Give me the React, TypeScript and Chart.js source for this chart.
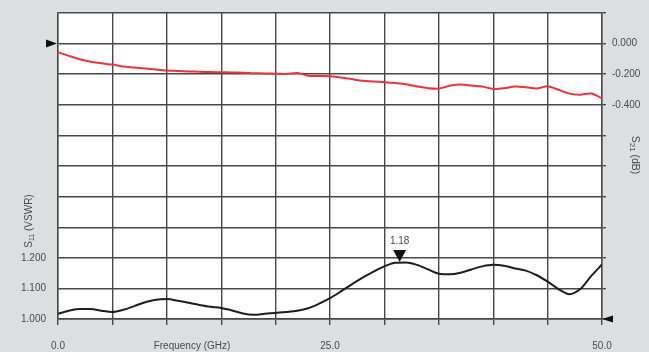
import React, { useEffect, useRef } from "react";
import { Chart, registerables } from "chart.js";

Chart.register(...registerables);

// Frequency (GHz) for S11 samples
const s11Freq = [0,1,2,3,4,5,6,7,8,9,10,11,12,13,14,15,16,17,18,19,20,21,22,23,24,25,26,27,28,29,30,31,32,33,34,35,36,37,38,39,40,41,42,43,44,45,46,47,48,49,50];
const s11Vswr = [1.017,1.027,1.033,1.033,1.027,1.023,1.030,1.042,1.055,1.063,1.065,1.060,1.053,1.046,1.040,1.036,1.028,1.018,1.014,1.017,1.020,1.023,1.027,1.035,1.050,1.068,1.090,1.113,1.135,1.155,1.172,1.184,1.185,1.177,1.162,1.148,1.146,1.151,1.162,1.172,1.177,1.174,1.165,1.158,1.143,1.122,1.098,1.081,1.098,1.140,1.178];

// Frequency (GHz) for S21 samples
const s21Freq = [0,1,2,3,4,5,6,7,8,9,10,11,12,13,14,15,16,17,18,19,20,21,22,23,24,25,26,27,28,29,30,31,32,33,34,35,36,37,38,39,40,41,42,43,44,45,46,47,48,49,50];
const s21Db = [-0.056,-0.080,-0.102,-0.118,-0.129,-0.137,-0.150,-0.156,-0.163,-0.170,-0.176,-0.179,-0.182,-0.184,-0.186,-0.187,-0.189,-0.190,-0.193,-0.195,-0.197,-0.198,-0.192,-0.210,-0.212,-0.214,-0.221,-0.232,-0.243,-0.247,-0.252,-0.258,-0.266,-0.280,-0.291,-0.294,-0.276,-0.268,-0.274,-0.281,-0.296,-0.292,-0.280,-0.285,-0.294,-0.278,-0.302,-0.327,-0.334,-0.326,-0.358];

const xLabelValues = [0, 25, 50];
const leftLabelValues = [1.0, 1.1, 1.2];
const rightLabelValues = [0, -0.2, -0.4];

const peakFreq = 31.4;
const peakValue = 1.18;
const peakLabel = "1.18";

const xTitle = "Frequency (GHz)";
const leftTitle = ["S", "11", " (VSWR)"];
const rightTitle = ["S", "21", " (dB)"];

const FONT = "'Liberation Sans', Arial, sans-serif";
const TEXT = "#4a4a4a";
const GRID = "#484848";
const BG = "#dcdfe0";

function inList(v: number, list: number[]) {
  return list.some((a) => Math.abs(a - v) < 1e-6);
}

function drawSubText(ctx: CanvasRenderingContext2D, x: number, y: number, rot: number, parts: string[], size: number) {
  ctx.save();
  ctx.translate(x, y);
  ctx.rotate(rot);
  ctx.fillStyle = TEXT;
  ctx.textBaseline = "middle";
  ctx.textAlign = "left";
  const mainF = `${size}px ${FONT}`;
  const subF = `${Math.round(size * 0.72)}px ${FONT}`;
  ctx.font = mainF;
  const w0 = ctx.measureText(parts[0]).width;
  const w2 = ctx.measureText(parts[2]).width;
  ctx.font = subF;
  const w1 = ctx.measureText(parts[1]).width;
  const total = w0 + w1 + w2;
  let cx = -total / 2;
  ctx.font = mainF;
  ctx.fillText(parts[0], cx, 0);
  cx += w0;
  ctx.font = subF;
  ctx.fillText(parts[1], cx, size * 0.3);
  cx += w1;
  ctx.font = mainF;
  ctx.fillText(parts[2], cx, 0);
  ctx.restore();
}

const decorPlugin = {
  id: "decor",
  beforeDraw(chart: any) {
    const { ctx, chartArea } = chart;
    ctx.save();
    ctx.fillStyle = BG;
    ctx.fillRect(0, 0, chart.width, chart.height);
    ctx.fillStyle = "#ffffff";
    ctx.fillRect(chartArea.left, chartArea.top, chartArea.right - chartArea.left, chartArea.bottom - chartArea.top);
    ctx.restore();
  },
  afterDraw(chart: any) {
    const { ctx, chartArea, scales } = chart;
    const xs = scales.x;
    const yl = scales.y;
    const yr = scales.y2;
    ctx.save();
    ctx.fillStyle = TEXT;
    ctx.font = `10px ${FONT}`;
    ctx.textAlign = "center";
    ctx.textBaseline = "middle";
    ctx.fillText(xTitle, 192, 346);
    drawSubText(ctx, 29, 221, -Math.PI / 2, leftTitle, 10);
    drawSubText(ctx, 635, 155, Math.PI / 2, rightTitle, 10.5);

    ctx.fillStyle = "#111111";
    const ya = yr.getPixelForValue(0);
    ctx.beginPath();
    ctx.moveTo(chartArea.left - 1, ya);
    ctx.lineTo(chartArea.left - 12, ya - 4);
    ctx.lineTo(chartArea.left - 12, ya + 4);
    ctx.closePath();
    ctx.fill();
    const yb = yl.getPixelForValue(1.0);
    ctx.beginPath();
    ctx.moveTo(chartArea.right, yb);
    ctx.lineTo(chartArea.right + 11, yb - 3.5);
    ctx.lineTo(chartArea.right + 11, yb + 3.5);
    ctx.closePath();
    ctx.fill();
    const px = xs.getPixelForValue(peakFreq);
    const py = yl.getPixelForValue(peakValue);
    ctx.beginPath();
    ctx.moveTo(px, py - 2);
    ctx.lineTo(px - 6.5, py - 14);
    ctx.lineTo(px + 6.5, py - 14);
    ctx.closePath();
    ctx.fill();
    ctx.fillStyle = TEXT;
    ctx.font = `10px ${FONT}`;
    ctx.textAlign = "center";
    ctx.textBaseline = "middle";
    ctx.fillText(peakLabel, px, py - 23);
    ctx.restore();
  },
};

const zeroVPad = (s: any) => {
  s.paddingTop = 0;
  s.paddingBottom = 0;
};

export default function App() {
  const ref = useRef<HTMLCanvasElement | null>(null);
  useEffect(() => {
    document.body.style.margin = "0";
    document.body.style.background = BG;
    const canvas = ref.current;
    if (!canvas) return;
    const chart = new Chart(canvas, {
      type: "line",
      data: {
        datasets: [
          {
            label: "S11",
            data: s11Freq.map((f, i) => ({ x: f, y: s11Vswr[i] })),
            borderColor: "#1e1e1e",
            borderWidth: 2,
            pointRadius: 0,
            cubicInterpolationMode: "monotone",
            yAxisID: "y",
          },
          {
            label: "S21",
            data: s21Freq.map((f, i) => ({ x: f, y: s21Db[i] })),
            borderColor: "#e8343d",
            borderWidth: 2,
            pointRadius: 0,
            tension: 0.3,
            yAxisID: "y2",
          },
        ],
      },
      options: {
        responsive: false,
        animation: false,
        devicePixelRatio: 1,
        layout: { padding: { top: 13, left: 0, right: 0, bottom: 0 } },
        plugins: { legend: { display: false }, tooltip: { enabled: false } },
        scales: {
          x: {
            type: "linear",
            min: 0,
            max: 50,
            ticks: {
              stepSize: 5,
              autoSkip: false,
              maxRotation: 0,
              padding: 15,
              color: TEXT,
              font: { family: FONT, size: 10 },
              callback: (v: any) => (inList(Number(v), xLabelValues) ? Number(v).toFixed(1) : ""),
            },
            grid: { color: GRID, lineWidth: 1.4, drawTicks: true, tickLength: 6, tickColor: GRID },
            border: { display: true, color: GRID, width: 1.4 },
            afterFit: (s: any) => { s.height = 33; s.paddingLeft = 0; s.paddingRight = 0; },
          },
          y: {
            type: "linear",
            position: "left",
            min: 1,
            max: 2,
            ticks: {
              stepSize: 0.1,
              autoSkip: false,
              padding: 12,
              color: TEXT,
              font: { family: FONT, size: 10 },
              callback: (v: any) => (inList(Number(v), leftLabelValues) ? Number(v).toFixed(3) : ""),
            },
            grid: { color: GRID, lineWidth: 1.4, drawTicks: false },
            border: { display: true, color: GRID, width: 1.4 },
            afterFit: (s: any) => { s.width = 58; zeroVPad(s); },
          },
          y2: {
            type: "linear",
            position: "right",
            min: -1.8,
            max: 0.2,
            ticks: {
              stepSize: 0.2,
              autoSkip: false,
              padding: 6,
              color: TEXT,
              font: { family: FONT, size: 10 },
              callback: (v: any) => (inList(Number(v), rightLabelValues) ? Number(v).toFixed(3) : ""),
            },
            grid: { drawOnChartArea: false, drawTicks: true, tickLength: 4, color: GRID, tickColor: GRID, lineWidth: 1.4 },
            border: { display: true, color: GRID, width: 1.4 },
            afterFit: (s: any) => { s.width = 47; zeroVPad(s); },
          },
        },
      } as any,
      plugins: [decorPlugin],
    });
    return () => chart.destroy();
  }, []);
  return <canvas ref={ref} width={649} height={352} style={{ display: "block" }} />;
}
